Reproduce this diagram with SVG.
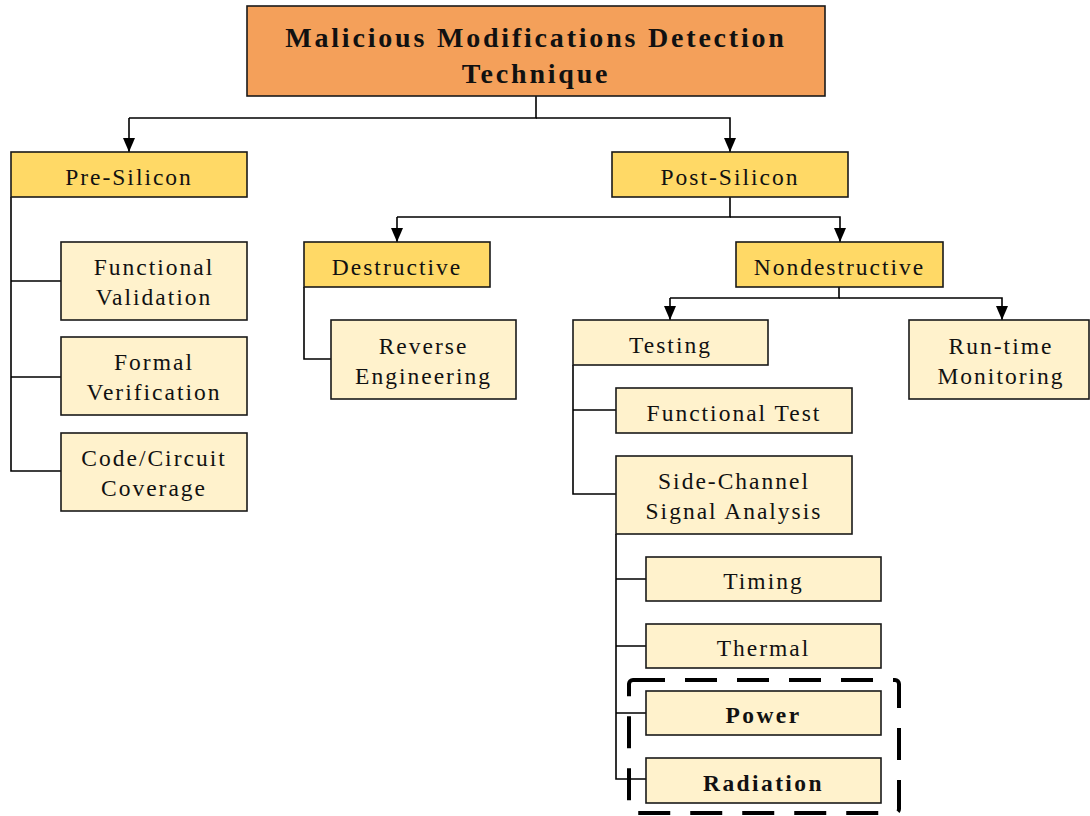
<svg xmlns="http://www.w3.org/2000/svg" width="1090" height="816" viewBox="0 0 1090 816">
  <defs>
    <marker id="arr" viewBox="0 0 14 12" refX="14" refY="6" markerWidth="14" markerHeight="12" markerUnits="userSpaceOnUse" orient="auto">
      <path d="M0,0 L14,6 L0,12 Z" fill="#000"/>
    </marker>
    <style>
      .box { stroke: #1a1a1a; stroke-width: 1.6; }
      .root { fill: #F4A05A; }
      .l1 { fill: #FFD966; }
      .l2 { fill: #FFF2CC; }
      text { font-family: "Liberation Serif", "Times New Roman", serif; font-size: 23.5px; fill: #111; text-anchor: middle; letter-spacing: 2px; }
      .title { font-size: 28px; font-weight: bold; letter-spacing: 2.8px; }
      .b { font-weight: bold; letter-spacing: 2.4px; }
      .conn { fill: none; stroke: #000; stroke-width: 1.6; }
      .arrow { marker-end: url(#arr); }
      .dash { fill: none; stroke: #000; stroke-width: 4; stroke-dasharray: 32 20; }
    </style>
  </defs>
  <rect width="1090" height="816" fill="#fff"/>

  <g id="connectors">
    <path class="conn" d="M536,96 V118 H129"/>
    <path class="conn arrow" d="M129,118 V152"/>
    <path class="conn arrow" d="M536,118 H730 V152"/>
    <path class="conn" d="M730,197 V217 H397"/>
    <path class="conn arrow" d="M397,217 V242"/>
    <path class="conn arrow" d="M730,217 H840 V242"/>
    <path class="conn" d="M839,287 V298 H670"/>
    <path class="conn arrow" d="M670,298 V320"/>
    <path class="conn arrow" d="M839,298 H1002 V320"/>
    <path class="conn" d="M11,197 V471 H61 M11,281 H61 M11,377 H61"/>
    <path class="conn" d="M304,287 V359 H331"/>
    <path class="conn" d="M573,365 V494 H616 M573,410 H616"/>
    <path class="conn" d="M616,534 V779 H646 M616,579 H646 M616,646 H646 M616,713 H646"/>
  </g>

  <g id="root">
    <rect class="box root" x="247" y="6" width="578" height="90"/>
    <text class="title" x="536" y="47">Malicious Modifications Detection</text>
    <text class="title" x="536" y="83">Technique</text>
  </g>

  <g id="pre-silicon">
    <rect class="box l1" x="11" y="152" width="236" height="45"/>
    <text x="129" y="185">Pre-Silicon</text>
  </g>
  <g id="post-silicon">
    <rect class="box l1" x="612" y="152" width="236" height="45"/>
    <text x="730" y="185">Post-Silicon</text>
  </g>

  <g id="functional-validation">
    <rect class="box l2" x="61" y="242" width="186" height="78"/>
    <text x="154" y="275">Functional</text>
    <text x="154" y="305">Validation</text>
  </g>
  <g id="formal-verification">
    <rect class="box l2" x="61" y="337" width="186" height="78"/>
    <text x="154" y="370">Formal</text>
    <text x="154" y="400">Verification</text>
  </g>
  <g id="code-circuit-coverage">
    <rect class="box l2" x="61" y="433" width="186" height="78"/>
    <text x="154" y="466">Code/Circuit</text>
    <text x="154" y="496">Coverage</text>
  </g>

  <g id="destructive">
    <rect class="box l1" x="304" y="242" width="186" height="45"/>
    <text x="397" y="275">Destructive</text>
  </g>
  <g id="nondestructive">
    <rect class="box l1" x="736" y="242" width="207" height="45"/>
    <text x="839.5" y="275">Nondestructive</text>
  </g>

  <g id="reverse-engineering">
    <rect class="box l2" x="331" y="320" width="185" height="79"/>
    <text x="423.5" y="354">Reverse</text>
    <text x="423.5" y="384">Engineering</text>
  </g>

  <g id="testing">
    <rect class="box l2" x="573" y="320" width="195" height="45"/>
    <text x="670.5" y="353">Testing</text>
  </g>
  <g id="run-time-monitoring">
    <rect class="box l2" x="909" y="320" width="180" height="79"/>
    <text x="1001" y="354">Run-time</text>
    <text x="1001" y="384">Monitoring</text>
  </g>

  <g id="functional-test">
    <rect class="box l2" x="616" y="388" width="236" height="45"/>
    <text x="734" y="421">Functional Test</text>
  </g>
  <g id="side-channel">
    <rect class="box l2" x="616" y="456" width="236" height="78"/>
    <text x="734" y="489">Side-Channel</text>
    <text x="734" y="519">Signal Analysis</text>
  </g>

  <g id="timing">
    <rect class="box l2" x="646" y="557" width="235" height="44"/>
    <text x="763.5" y="589">Timing</text>
  </g>
  <g id="thermal">
    <rect class="box l2" x="646" y="624" width="235" height="44"/>
    <text x="763.5" y="656">Thermal</text>
  </g>
  <g id="power">
    <rect class="box l2" x="646" y="691" width="235" height="44"/>
    <text class="b" x="763.5" y="723">Power</text>
  </g>
  <g id="radiation">
    <rect class="box l2" x="646" y="758" width="235" height="45"/>
    <text class="b" x="763.5" y="791">Radiation</text>
  </g>

  <g id="highlight">
    <rect class="dash" x="629" y="680" width="270" height="133" rx="4"/>
  </g>
</svg>
